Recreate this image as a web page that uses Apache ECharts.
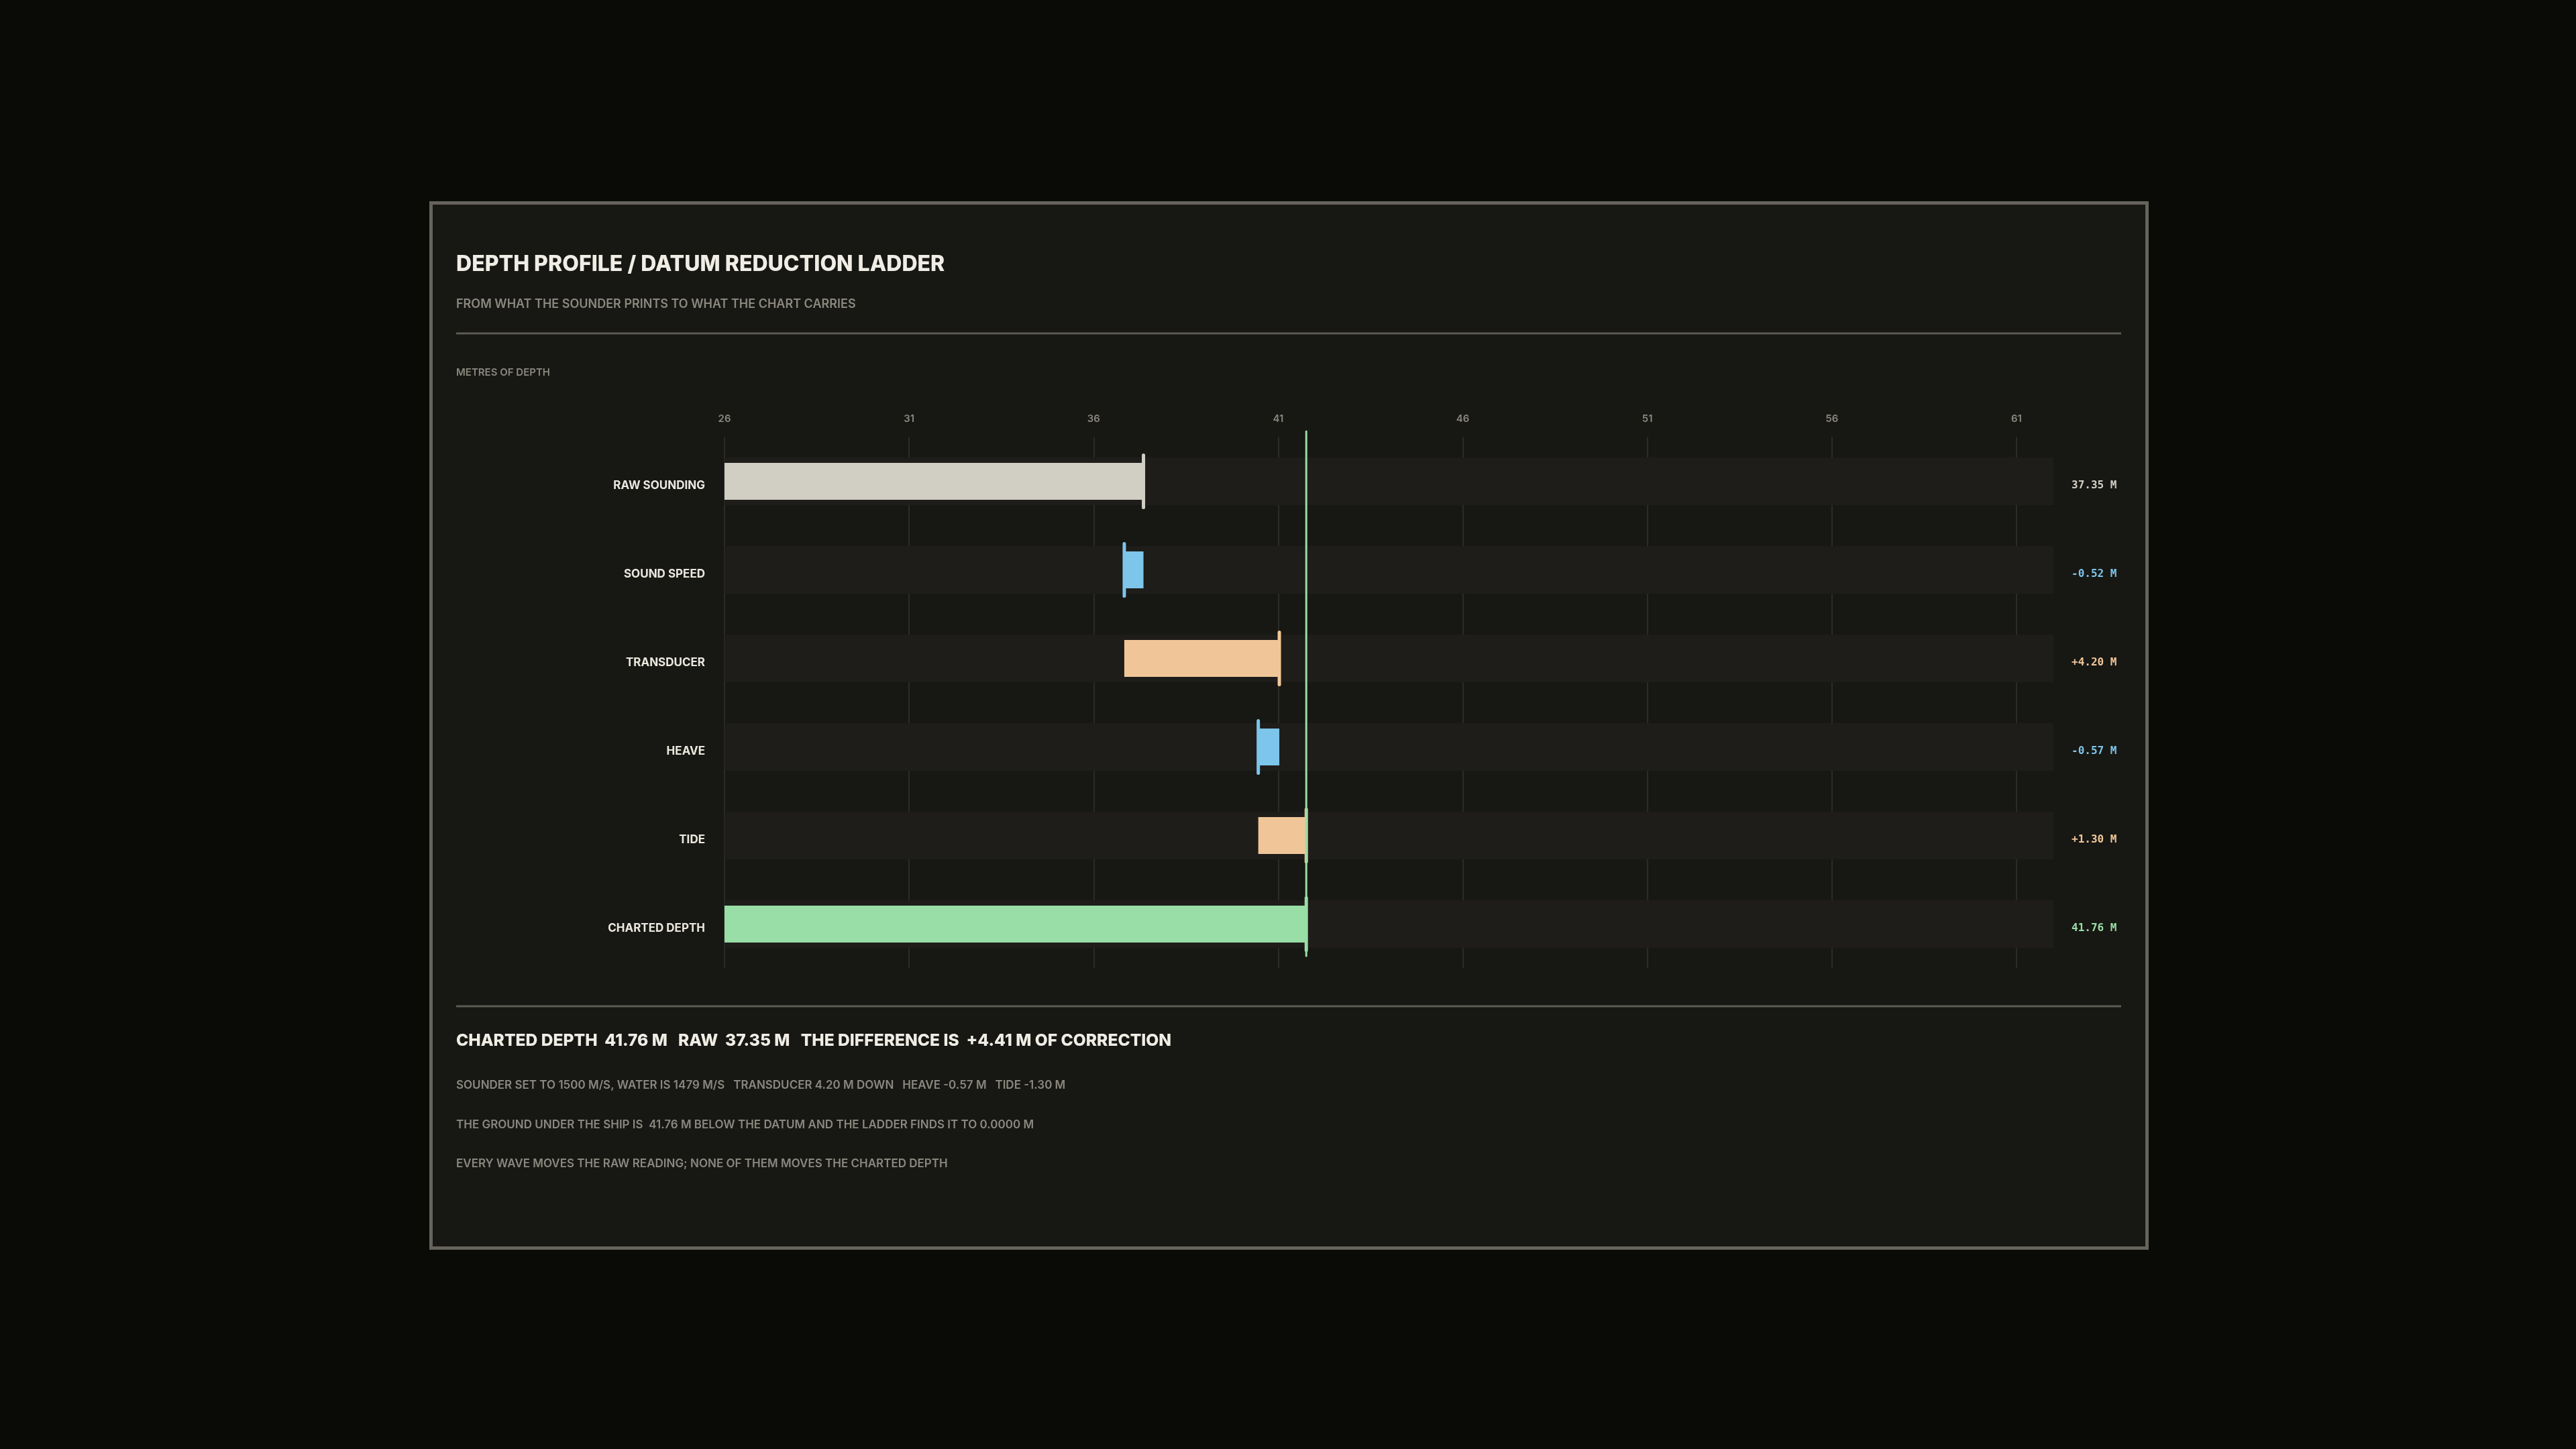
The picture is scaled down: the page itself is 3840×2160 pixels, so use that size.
<!DOCTYPE html>
<html>
<head>
<meta charset="utf-8">
<style>
  html, body { margin: 0; padding: 0; background: #0a0b07; }
  #chart { width: 3840px; height: 2160px; }
</style>
<script src="https://cdn.jsdelivr.net/npm/echarts@6/dist/echarts.min.js"></script>
</head>
<body>
<div id="chart"></div>
<script>
// ---- data ----
const categories = ['RAW SOUNDING', 'SOUND SPEED', 'TRANSDUCER', 'HEAVE', 'TIDE', 'CHARTED DEPTH'];
const rowFrom = [26, 37.35, 36.83, 41.03, 40.46, 26];
const rowTo   = [37.35, 36.83, 41.03, 40.46, 41.76, 41.76];
const valueLabels = ['37.35 M', '-0.52 M', '+4.20 M', '-0.57 M', '+1.30 M', '41.76 M'];
const rowKinds = ['raw', 'neg', 'pos', 'neg', 'pos', 'final'];
const chartedDepth = 41.76;
const axisMin = 26;
const axisMax = 62;
const axisStep = 5;

const titleText = 'DEPTH PROFILE / DATUM REDUCTION LADDER';
const subtitleText = 'FROM WHAT THE SOUNDER PRINTS TO WHAT THE CHART CARRIES';
const axisTitleText = 'METRES OF DEPTH';
const summaryText = 'CHARTED DEPTH  41.76 M   RAW  37.35 M   THE DIFFERENCE IS  +4.41 M OF CORRECTION';
const noteLines = [
  'SOUNDER SET TO 1500 M/S, WATER IS 1479 M/S   TRANSDUCER 4.20 M DOWN   HEAVE -0.57 M   TIDE -1.30 M',
  'THE GROUND UNDER THE SHIP IS  41.76 M BELOW THE DATUM AND THE LADDER FINDS IT TO 0.0000 M',
  'EVERY WAVE MOVES THE RAW READING; NONE OF THEM MOVES THE CHARTED DEPTH'
];

// ---- style ----
const kindColor = { raw: '#d1cec4', neg: '#7dc5ea', pos: '#f0c699', final: '#98dea6' };
const FONT = 'Inter, "Noto Sans", sans-serif';
const MONO = '"DejaVu Sans Mono", monospace';
const textWhite = '#ebe8df';
const textGray = '#8a887f';
const lineGray = '#65635c';

const chart = echarts.init(document.getElementById('chart'), null, { renderer: 'canvas' });

const ladderData = categories.map((c, i) => [rowFrom[i], rowTo[i], i]);

const valueRich = {};
rowKinds.forEach((k, i) => {
  valueRich['c' + i] = { color: kindColor[k], fontFamily: MONO, fontWeight: 'bold', fontSize: 16, padding: [13, 0, 0, 0] };
});
const catRich = {
  n: { color: textWhite, fontFamily: FONT, fontWeight: 700, fontSize: 17, padding: [13, 0, 0, 0] }
};

const option = {
  backgroundColor: '#0a0b07',
  animation: false,
  graphic: [
    { type: 'rect', z: -10, shape: { x: 642.5, y: 302.5, width: 2558, height: 1558 },
      style: { fill: '#171713', stroke: lineGray, lineWidth: 5 } },
    { type: 'text', z: 5, x: 680, y: 394, style: { text: titleText, fill: '#f0ede5', font: '800 32px ' + FONT, textVerticalAlign: 'middle' } },
    { type: 'text', z: 5, x: 680, y: 454, style: { text: subtitleText, fill: textGray, font: '600 18px ' + FONT, textVerticalAlign: 'middle' } },
    { type: 'line', z: 5, shape: { x1: 680, y1: 497, x2: 3162, y2: 497 }, style: { stroke: '#5d5b54', lineWidth: 3 } },
    { type: 'text', z: 5, x: 680, y: 555, style: { text: axisTitleText, fill: textGray, font: '600 15px ' + FONT, textVerticalAlign: 'middle' } },
    { type: 'line', z: 5, shape: { x1: 680, y1: 1500, x2: 3162, y2: 1500 }, style: { stroke: '#5d5b54', lineWidth: 3 } },
    { type: 'text', z: 5, x: 680, y: 1552, style: { text: summaryText, fill: '#f0ede5', font: '800 24.6px ' + FONT, textVerticalAlign: 'middle' } },
    { type: 'text', z: 5, x: 680, y: 1618, style: { text: noteLines[0], fill: textGray, font: '600 17px ' + FONT, textVerticalAlign: 'middle' } },
    { type: 'text', z: 5, x: 680, y: 1677, style: { text: noteLines[1], fill: textGray, font: '600 17px ' + FONT, textVerticalAlign: 'middle' } },
    { type: 'text', z: 5, x: 680, y: 1735, style: { text: noteLines[2], fill: textGray, font: '600 17px ' + FONT, textVerticalAlign: 'middle' } }
  ],
  grid: { left: 1080, right: 779, top: 651.5, height: 792, containLabel: false },
  xAxis: {
    type: 'value', position: 'top', min: axisMin, max: axisMax, interval: axisStep,
    axisLine: { show: false }, axisTick: { show: false },
    axisLabel: { color: textGray, fontFamily: FONT, fontWeight: 600, fontSize: 15, margin: 20, showMaxLabel: false },
    splitLine: { show: true, showMaxLine: false, lineStyle: { color: '#2b2b27', width: 2 } }
  },
  yAxis: [
    {
      type: 'category', data: categories, inverse: true,
      axisLine: { show: false }, axisTick: { show: false }, splitLine: { show: false },
      axisLabel: { margin: 29, formatter: (v) => '{n|' + v + '}', rich: catRich }
    },
    {
      type: 'category', data: categories, inverse: true, position: 'right',
      axisLine: { show: false }, axisTick: { show: false }, splitLine: { show: false },
      axisLabel: {
        margin: 27, align: 'left',
        formatter: (v, i) => '{c' + i + '|' + valueLabels[i] + '}',
        rich: valueRich
      }
    }
  ],
  series: [
    {
      type: 'custom', name: 'ladder', z: 3,
      encode: { x: [0, 1], y: 2 },
      data: ladderData,
      renderItem: function (params, api) {
        const idx = api.value(2);
        const from = api.coord([api.value(0), idx]);
        const to = api.coord([api.value(1), idx]);
        const cs = params.coordSys;
        const cy = from[1];
        const color = kindColor[rowKinds[idx]];
        const trackH = 71, barH = 55, markH = 78;
        const x0 = Math.min(from[0], to[0]);
        const w = Math.abs(to[0] - from[0]);
        return {
          type: 'group',
          children: [
            { type: 'rect', shape: { x: cs.x, y: cy - trackH / 2, width: cs.width, height: trackH }, style: { fill: '#1e1d1a' } },
            { type: 'rect', shape: { x: x0, y: cy - barH / 2, width: w, height: barH }, style: { fill: color } },
            { type: 'line', shape: { x1: to[0], y1: cy - markH / 2, x2: to[0], y2: cy + markH / 2 },
              style: { stroke: color, lineWidth: 5, lineCap: 'round' } }
          ]
        };
      }
    },
    {
      type: 'custom', name: 'charted', z: 4,
      encode: { x: 0, y: 1 },
      data: [[chartedDepth, 0]],
      renderItem: function (params, api) {
        const p = api.coord([api.value(0), 0]);
        const cs = params.coordSys;
        return {
          type: 'line',
          shape: { x1: p[0], y1: cs.y - 8.5, x2: p[0], y2: cs.y + cs.height - 18.5 },
          style: { stroke: kindColor.final, lineWidth: 3, lineCap: 'round' }
        };
      }
    }
  ]
};
chart.setOption(option);
</script>
</body>
</html>
